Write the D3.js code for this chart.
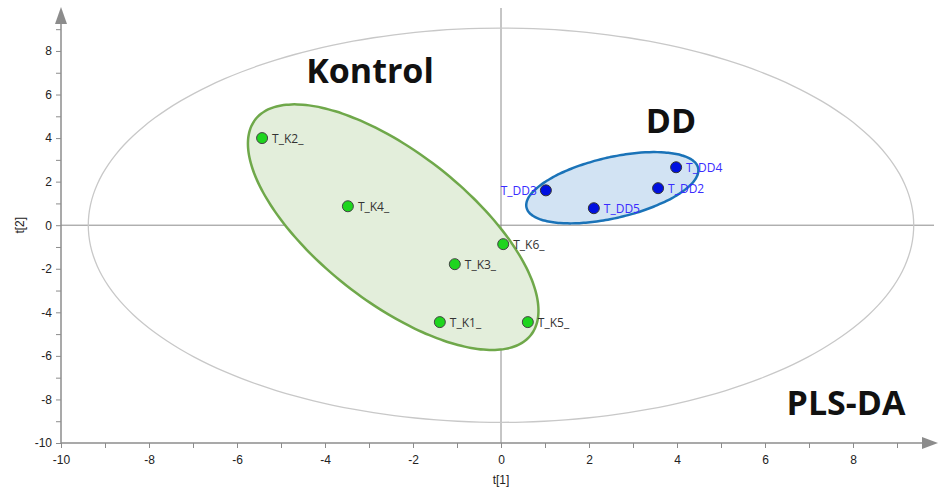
<!DOCTYPE html>
<html>
<head>
<meta charset="utf-8">
<script src="https://cdn.jsdelivr.net/npm/d3@7"></script>
<style>
  body { margin: 0; background: #fff; }
  svg text { font-family: "Open Sans", "Noto Sans", sans-serif; }
</style>
</head>
<body>
<script>
// scores
var kNames = ["T_K1_", "T_K2_", "T_K3_", "T_K4_", "T_K5_", "T_K6_"];
var kT1 = [-1.39, -5.43, -1.05, -3.48, 0.61, 0.05];
var kT2 = [-4.45, 4.0, -1.79, 0.87, -4.45, -0.87];

var ddNames = ["T_DD2", "T_DD3", "T_DD4", "T_DD5"];
var ddT1 = [3.57, 1.02, 3.98, 2.11];
var ddT2 = [1.70, 1.60, 2.66, 0.78];

// ellipses: center, half axis vectors (data units)
var hotelling = { c: [0, 0], u: [9.38, 0], v: [0, 9.05] };
var kEll = { c: [-2.45, -0.09], u: [3.13, -4.95], v: [-1.05, -2.7] };
var ddEll = { c: [2.53, 1.72], u: [1.95, 0.91], v: [0.155, -1.36] };

var xTicks = [-10, -8, -6, -4, -2, 0, 2, 4, 6, 8];
var yTicks = [-10, -8, -6, -4, -2, 0, 2, 4, 6, 8];

var W = 938, H = 490;
var svg = d3.select("body").append("svg").attr("width", W).attr("height", H);

var x = d3.scaleLinear().domain([-10, 0]).range([61, 501]);
var y = d3.scaleLinear().domain([-10, 0]).range([443, 225.2]);

var axisCol = "#8c8c8c";

/* zero lines */
svg.append("line").attr("x1", x(-10)).attr("x2", 934).attr("y1", y(0)).attr("y2", y(0))
  .attr("stroke", axisCol).attr("stroke-width", 1);
svg.append("line").attr("x1", x(0)).attr("x2", x(0)).attr("y1", 8).attr("y2", y(-10))
  .attr("stroke", axisCol).attr("stroke-width", 1);

function ellPath(e) {
  var pts = d3.range(0, 361, 3).map(function(a) {
    var t = a * Math.PI / 180;
    return [x(e.c[0] + e.u[0] * Math.cos(t) + e.v[0] * Math.sin(t)),
            y(e.c[1] + e.u[1] * Math.cos(t) + e.v[1] * Math.sin(t))];
  });
  return d3.line().curve(d3.curveCardinalClosed)(pts.slice(0, -1));
}

svg.append("path").attr("d", ellPath(hotelling)).attr("fill", "none")
  .attr("stroke", "#c8c8c8").attr("stroke-width", 1.3);
svg.append("path").attr("d", ellPath(kEll)).attr("fill", "#e3eedb")
  .attr("stroke", "#6fa84a").attr("stroke-width", 2.5);
svg.append("path").attr("d", ellPath(ddEll)).attr("fill", "#d2e3f3")
  .attr("stroke", "#1a73b8").attr("stroke-width", 2.5);

/* axes */
var xAxis = d3.axisBottom(x).tickValues(d3.range(-10, 10, 1)).tickSize(5)
  .tickFormat(function(d) { return xTicks.indexOf(d) >= 0 ? d : ""; });
var gx = svg.append("g").attr("transform", "translate(0," + y(-10) + ")").call(xAxis);
var yAxis = d3.axisLeft(y).tickValues(d3.range(-10, 10, 1)).tickSize(5)
  .tickFormat(function(d) { return yTicks.indexOf(d) >= 0 ? d : ""; });
var gy = svg.append("g").attr("transform", "translate(" + x(-10) + ",0)").call(yAxis);

[gx, gy].forEach(function(g) {
  g.select(".domain").remove();
  g.selectAll("line").attr("stroke", axisCol);
  g.selectAll("text").attr("fill", "#222").style("font-family", "'Liberation Sans', Arial, sans-serif")
    .style("font-size", "12px");
});
gx.selectAll("text").attr("dy", "1.1em");
gy.selectAll("text").attr("x", -9);

svg.append("line").attr("x1", x(-10)).attr("x2", 926).attr("y1", y(-10)).attr("y2", y(-10))
  .attr("stroke", axisCol).attr("stroke-width", 1.5);
svg.append("line").attr("x1", x(-10)).attr("x2", x(-10)).attr("y1", y(-10)).attr("y2", 22)
  .attr("stroke", axisCol).attr("stroke-width", 1.5);
svg.append("path").attr("d", "M" + (x(-10) - 6) + ",24L" + x(-10) + ",7L" + (x(-10) + 6) + ",24Z")
  .attr("fill", axisCol);
svg.append("path").attr("d", "M922," + (y(-10) - 6) + "L938," + y(-10) + "L922," + (y(-10) + 6) + "Z")
  .attr("fill", axisCol);

svg.append("text").attr("x", x(0)).attr("y", 484).attr("text-anchor", "middle")
  .style("font-family", "'Liberation Sans', Arial, sans-serif").style("font-size", "12px")
  .attr("fill", "#222").text("t[1]");
svg.append("text").attr("transform", "translate(24," + y(0) + ") rotate(-90)")
  .attr("text-anchor", "middle")
  .style("font-family", "'Liberation Sans', Arial, sans-serif").style("font-size", "12px")
  .attr("fill", "#222").text("t[2]");

/* points */
var kData = kNames.map(function(n, i) { return { n: n, a: kT1[i], b: kT2[i] }; });
var ddData = ddNames.map(function(n, i) { return { n: n, a: ddT1[i], b: ddT2[i] }; });

svg.selectAll(".kp").data(kData).enter().append("circle")
  .attr("cx", function(d) { return x(d.a); }).attr("cy", function(d) { return y(d.b); })
  .attr("r", 5.5).attr("fill", "#1ed51e").attr("stroke", "#444").attr("stroke-width", 1);
svg.selectAll(".kl").data(kData).enter().append("text")
  .attr("x", function(d) { return x(d.a) + 10; }).attr("y", function(d) { return y(d.b) + 4.5; })
  .style("font-size", "12px").attr("fill", "#333").text(function(d) { return d.n; });

svg.selectAll(".dp").data(ddData).enter().append("circle")
  .attr("cx", function(d) { return x(d.a); }).attr("cy", function(d) { return y(d.b); })
  .attr("r", 5.5).attr("fill", "#0010e0").attr("stroke", "#333").attr("stroke-width", 1);
svg.selectAll(".dl").data(ddData).enter().append("text")
  .attr("x", function(d) { return d.n === "T_DD3" ? x(d.a) - 9 : x(d.a) + 10; })
  .attr("y", function(d) { return y(d.b) + 4.5; })
  .attr("text-anchor", function(d) { return d.n === "T_DD3" ? "end" : "start"; })
  .style("font-size", "12px").attr("fill", "#3a2cff").text(function(d) { return d.n; });

/* group titles */
function title(t, px, py) {
  svg.append("text").attr("x", px).attr("y", py).attr("text-anchor", "middle")
    .style("font-size", "34px").style("font-weight", "bold").attr("fill", "#111").text(t);
}
title("Kontrol", 370, 83);
title("DD", 671, 133);
title("PLS-DA", 846, 415);
</script>
</body>
</html>
